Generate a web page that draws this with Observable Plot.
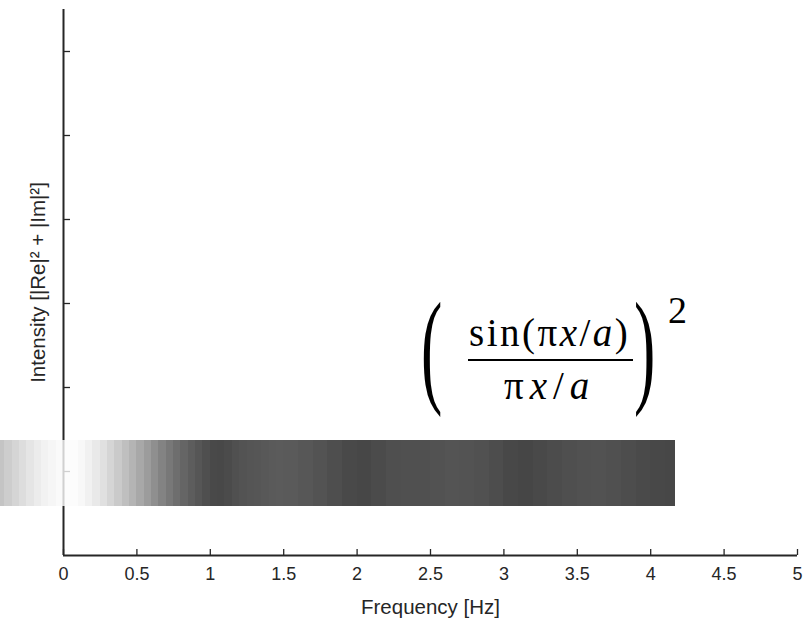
<!DOCTYPE html>
<html>
<head>
<meta charset="utf-8">
<script src="https://cdn.jsdelivr.net/npm/d3@7"></script>
<script src="https://cdn.jsdelivr.net/npm/@observablehq/plot@0.6"></script>
<style>
  html, body { margin: 0; padding: 0; background: #fff; }
  #wrap { position: relative; width: 808px; height: 626px; overflow: hidden; }
  #formula { position: absolute; left: 0; top: 0; width: 808px; height: 626px; pointer-events: none;
    font-family: "Liberation Serif", "DejaVu Serif", serif; color: #000; }
  #formula span, #formula div { position: absolute; white-space: nowrap; line-height: 1; }
  .bigp { font-size: 128px; transform: scaleX(0.5); transform-origin: left top; }
  .num { font-size: 39px; letter-spacing: 2.5px; }
  .den { font-size: 39px; letter-spacing: 6px; }
  .sup { font-size: 38px; }
  .bar { background: #000; height: 2px; }
  i { font-style: italic; }
</style>
</head>
<body>
<div id="wrap">
  <div id="chart"></div>
  <div id="formula">
    <span class="bigp" style="left:421px; top:283px;">(</span>
    <span class="num" style="left:469px; top:313px;">sin(π<i>x</i>/<i>a</i>)</span>
    <div class="bar" style="left:468px; top:359px; width:165px;"></div>
    <span class="den" style="left:504px; top:366px;">π<i>x</i>/<i>a</i></span>
    <span class="bigp" style="left:634px; top:283px;">)</span>
    <span class="sup" style="left:668px; top:291px;">2</span>
  </div>
</div>
<script>
// Bin edges of the intensity strip (Hz)
const binEdges = [-0.45,-0.40,-0.35,-0.30,-0.25,-0.20,-0.15,-0.10,-0.05,0.00,
  0.05,0.10,0.15,0.20,0.25,0.30,0.35,0.40,0.45,0.50,0.55,0.60,0.65,0.70,0.75,0.80,
  0.85,0.90,0.95,1.00,1.05,1.10,1.15,1.20,1.25,1.30,1.35,1.40,1.45,1.50,
  1.6,1.7,1.8,1.9,2.0,2.1,2.2,2.3,2.4,2.5,2.6,2.7,2.8,2.9,3.0,3.1,3.2,3.3,3.4,
  3.5,3.6,3.7,3.8,3.9,4.0,4.1,4.17];
// Grey level (0 = black, 255 = white) seen in each bin
const greyLevel = [196,205,213,221,229,236,242,246,250,
  252,252,248,241,233,224,213,202,191,180,168,156,143,131,120,110,101,93,86,79,
  73,72,75,80,83,85,86,88,90,91,
  90,87,83,78,73,71,75,79,80,80,82,84,83,81,77,72,70,73,76,79,81,82,80,77,74,72,71];
// Vertical extent of the strip (intensity units)
const stripY = [0.58, 1.37];
const xTicks = [0,0.5,1,1.5,2,2.5,3,3.5,4,4.5,5];
const xTickLabels = ["0","0.5","1","1.5","2","2.5","3","3.5","4","4.5","5"];
const yTicks = [1,2,3,4,5,6];
const xLabel = "Frequency [Hz]";
const yLabel = "Intensity [|Re|² + |Im|²]";

const strip = greyLevel.map((g, i) => ({x1: binEdges[i], x2: binEdges[i+1], y1: stripY[0], y2: stripY[1], g}));
const op = 0.8;
const fillOf = d => { const v = Math.max(0, Math.min(255, Math.round((d.g - 255*(1-op))/op))); return `rgb(${v},${v},${v})`; };

const axisColor = "#262626";
const chart = Plot.plot({
  width: 808,
  height: 626,
  marginLeft: 63,
  marginRight: 11,
  marginTop: 9,
  marginBottom: 71,
  style: {fontFamily: "'Liberation Sans', Arial, sans-serif", fontSize: "18px", background: "white", overflow: "hidden"},
  x: {domain: [0, 5], label: null},
  y: {domain: [0, 6.5], label: null},
  marks: [
    Plot.axisX(xTicks, {tickSize: -6, tickFormat: () => "", stroke: axisColor, strokeWidth: 1.3, label: null}),
    Plot.axisX(xTicks, {tickSize: 0, tickPadding: 12, tickFormat: (d, i) => xTickLabels[i], fontSize: 18, fill: axisColor, label: null}),
    Plot.axisY(yTicks, {tickSize: -7, tickFormat: () => "", stroke: axisColor, strokeWidth: 1.3, label: null}),
    Plot.text([xLabel], {frameAnchor: "bottom", dy: 52, fontSize: 20.5, fill: axisColor, textAnchor: "middle", lineAnchor: "middle"}),
    Plot.text([yLabel], {frameAnchor: "left", dx: -25, rotate: -90, fontSize: 20.5, fill: axisColor, textAnchor: "middle", lineAnchor: "middle"}),
    Plot.ruleY([0], {stroke: axisColor, strokeWidth: 2}),
    Plot.ruleX([0], {stroke: axisColor, strokeWidth: 2}),
    Plot.rect(strip, {x1: "x1", x2: "x2", y1: "y1", y2: "y2", fill: fillOf, fillOpacity: op, clip: false, shapeRendering: "crispEdges"})
  ]
});
document.getElementById("chart").appendChild(chart);
</script>
</body>
</html>
